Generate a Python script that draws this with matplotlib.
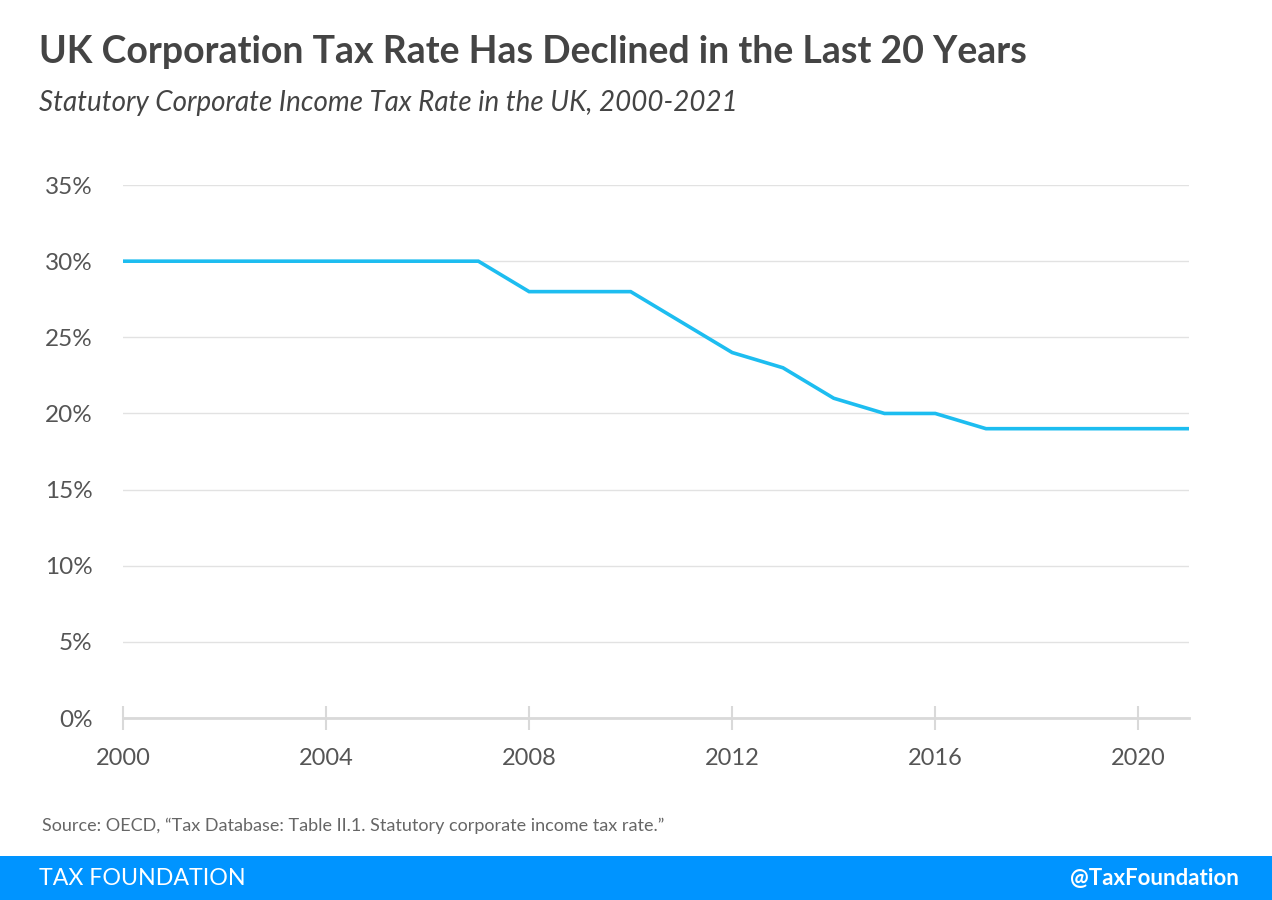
import matplotlib.pyplot as plt
from matplotlib.patches import Rectangle

years = list(range(2000, 2022))
rates = [30, 30, 30, 30, 30, 30, 30, 30, 28, 28, 28, 26, 24, 23, 21, 20, 20, 19, 19, 19, 19, 19]
yticks = [0, 5, 10, 15, 20, 25, 30, 35]
xticks = [2000, 2004, 2008, 2012, 2016, 2020]

plt.rcParams['font.family'] = ['Lato', 'DejaVu Sans']

fig = plt.figure(figsize=(12.72, 9), dpi=100)
ax = fig.add_axes([0.0967, 0.2022, 0.8381, 0.5922])

ax.plot(years, rates, color='#1DBDF0', linewidth=2.6, solid_joinstyle='miter', zorder=3)

ax.set_xlim(2000, 2021)
ax.set_ylim(0, 35)
ax.set_yticks(yticks)
ax.set_yticklabels([f"{t}%" for t in yticks])
ax.set_xticks(xticks)
ax.set_xticklabels([str(t) for t in xticks])

ax.grid(axis='y', color='#E2E2E2', linewidth=1)
ax.set_axisbelow(True)
for s in ['top', 'right', 'left']:
    ax.spines[s].set_visible(False)
ax.spines['bottom'].set_color('#D9D9D9')
ax.spines['bottom'].set_linewidth(2)
ax.spines['bottom'].set_zorder(2)

ax.tick_params(axis='y', length=0, pad=22, labelsize=17.5, labelcolor='#555555')
ax.tick_params(axis='x', direction='inout', length=17, width=1.5, color='#D9D9D9',
               pad=13, labelsize=17, labelcolor='#555555')

fig.text(0.031, 0.942, "UK Corporation Tax Rate Has Declined in the Last 20 Years",
         fontsize=27, fontweight='bold', color='#444444', va='center')
fig.text(0.031, 0.886, "Statutory Corporate Income Tax Rate in the UK, 2000-2021",
         fontsize=20, style='italic', color='#444444', va='center')
fig.text(0.033, 0.082, "Source: OECD, \u201cTax Database: Table II.1. Statutory corporate income tax rate.\u201d",
         fontsize=13, color='#666666', va='center')

fig.patches.append(Rectangle((0, 0), 1, 0.049, transform=fig.transFigure,
                             facecolor='#0094FF', edgecolor='none'))
fig.text(0.031, 0.024, "TAX FOUNDATION", fontsize=16.7, color='white', va='center')
fig.text(0.974, 0.024, "@TaxFoundation", fontsize=16, color='white', va='center',
         ha='right', fontweight='bold')

fig.savefig('out.png', dpi=100)
